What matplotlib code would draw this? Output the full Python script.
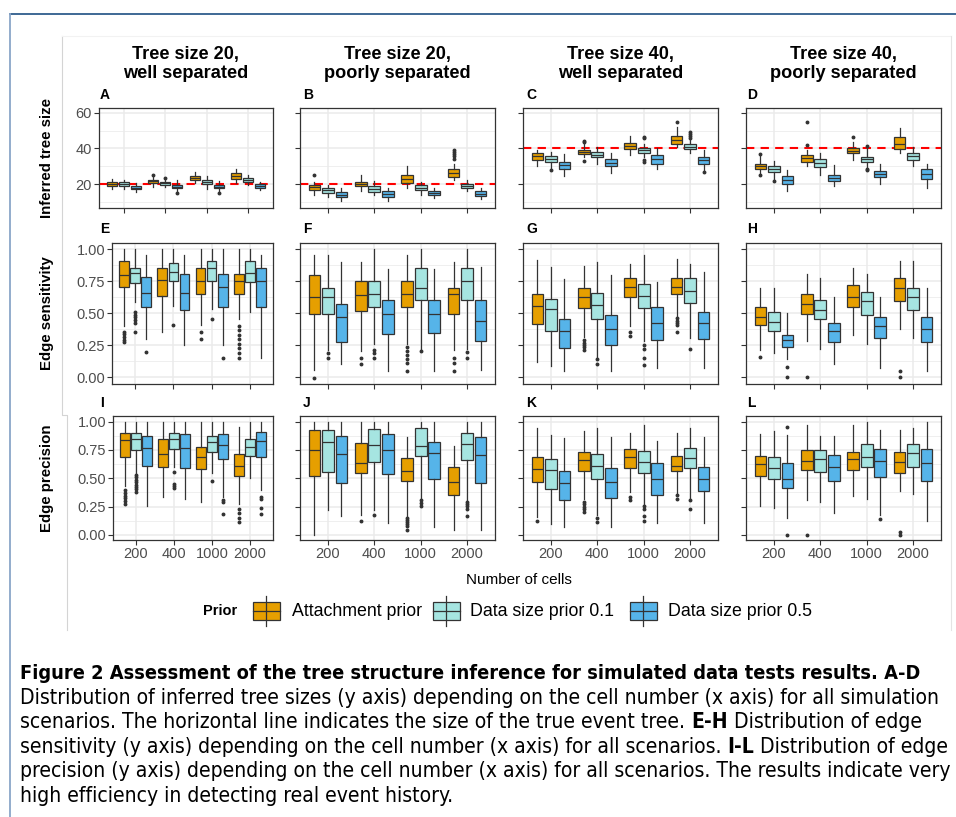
import matplotlib
matplotlib.use("Agg")
import matplotlib.pyplot as plt
from matplotlib.patches import Rectangle

# ===============================
# DATA
# box = (whisker low, q1, median, q3, whisker high)
# order: 200, 400, 1000, 2000 cells; each with attachment, size 0.1, size 0.5
# ===============================
cells = ["200", "400", "1000", "2000"]
priors = ["Attachment prior", "Data size prior 0.1", "Data size prior 0.5"]
col_titles = ["Tree size 20,\nwell separated", "Tree size 20,\npoorly separated",
              "Tree size 40,\nwell separated", "Tree size 40,\npoorly separated"]
row_labels = ["Inferred tree size", "Edge sensitivity", "Edge precision"]
letters = ["A", "B", "C", "D", "E", "F", "G", "H", "I", "J", "K", "L"]
true_size = [20, 20, 40, 40]

size_A = [(17.4, 19, 20, 21, 22.6), (17.2, 19, 20, 21, 22), (15.5, 17, 18, 19, 20.8),
          (18.3, 20.5, 21.5, 22, 24.5), (18.5, 19.6, 20.5, 21, 23), (15.5, 17.7, 18.5, 19.6, 22),
          (20.5, 22, 23.5, 24.5, 27), (17.4, 20.2, 21, 22, 24.3), (15.5, 17.7, 18.5, 19.4, 21.5),
          (20.5, 23, 24.5, 26.2, 28.7), (19.2, 21.1, 22, 23.4, 25), (16.4, 17.9, 19, 19.8, 21)]
out_A = [[], [], [], [25], [23.5], [15], [], [], [15], [], [], []]

size_B = [(14, 16.8, 18.3, 19.2, 21), (12.6, 15, 16.5, 18, 19.5), (10.2, 12.8, 14, 15.5, 17.7),
          (15.8, 18.7, 20, 21.1, 25.3), (13.6, 15.5, 17, 19, 21.5), (10.2, 12.6, 14.3, 15.8, 17.7),
          (18, 20.6, 23, 25, 30), (14, 16.8, 18, 19.4, 21), (12, 13.6, 15, 16, 17.7),
          (22, 24, 26.2, 28.3, 31), (16, 17.7, 19, 19.8, 22), (11.5, 13, 14.5, 16, 17.7)]
out_B = [[25.3], [], [], [], [], [], [], [], [], [34.3, 35.5, 36.7, 38, 39.4], [], []]

size_C = [(30.2, 33.8, 35.5, 37.2, 39), (28.5, 32.5, 34.2, 36, 38), (24.3, 28.7, 30.8, 32.6, 36.8),
          (35, 37, 38, 39.2, 42.8), (31.5, 35, 36.5, 38, 41), (26.2, 30, 32, 34, 37.7),
          (36.2, 39.6, 41.5, 43.2, 47), (35, 37.7, 39, 40.4, 42.8), (28.3, 31.5, 34, 36.2, 40),
          (41, 42.8, 45, 47.2, 52.3), (37.5, 39.8, 41, 42.3, 44.7), (27.4, 31.5, 33.5, 35.3, 39)]
out_C = [[], [27.7], [], [43.5, 44.3, 32.8], [], [], [], [45.7, 46.6, 33.8, 32.5], [],
         [55], [46, 47, 48.2, 49.4], [26.8]]

size_D = [(25.8, 28.5, 30, 31.3, 35.5), (23, 26.6, 28.5, 30, 33), (16, 19.8, 22, 24.3, 28),
          (30.2, 32.6, 34.5, 36.2, 39), (25, 29.6, 32, 34, 37.5), (19, 21.5, 23.3, 25, 30.6),
          (33.4, 37.2, 38.7, 40.2, 43.8), (29.6, 32.5, 34, 35.3, 40.5), (19.8, 23.8, 25.5, 27.2, 31),
          (37.2, 39.6, 42.5, 46.6, 51.3), (30, 33.6, 35.5, 37.2, 41), (18, 22.6, 25.5, 28.5, 31)]
out_D = [[36.8, 25], [21.6], [], [55, 41.9], [], [], [46.6], [41.5, 28.7, 27.8], [], [], [], []]

sens_E = [(0.40, 0.702, 0.795, 0.903, 1.0), (0.59, 0.732, 0.81, 0.856, 1.0), (0.30, 0.551, 0.654, 0.782, 0.955),
          (0.357, 0.633, 0.756, 0.85, 1.0), (0.554, 0.75, 0.824, 0.895, 1.0), (0.252, 0.527, 0.654, 0.808, 0.955),
          (0.404, 0.651, 0.75, 0.85, 1.0), (0.535, 0.75, 0.85, 0.903, 1.0), (0.252, 0.551, 0.703, 0.808, 1.0),
          (0.457, 0.651, 0.75, 0.808, 1.0), (0.509, 0.743, 0.81, 0.903, 1.0), (0.152, 0.551, 0.75, 0.85, 0.955)]
out_E = [[0.357, 0.336, 0.315, 0.294, 0.273], [0.509, 0.488, 0.467, 0.446, 0.425, 0.352], [0.20],
         [], [0.404], [],
         [0.357, 0.30], [0.454], [0.152],
         [0.40, 0.367, 0.331, 0.299, 0.262, 0.226, 0.189, 0.152], [], []]

sens_F = [(0.06, 0.49, 0.63, 0.80, 0.95), (0.21, 0.496, 0.63, 0.70, 0.95), (0.104, 0.275, 0.47, 0.575, 0.898),
          (0.206, 0.517, 0.641, 0.75, 0.90), (0.262, 0.547, 0.651, 0.75, 1.0), (0.05, 0.336, 0.496, 0.60, 0.847),
          (0.262, 0.547, 0.651, 0.75, 0.95), (0.224, 0.60, 0.70, 0.852, 1.0), (0.05, 0.346, 0.496, 0.60, 0.847),
          (0.21, 0.496, 0.651, 0.70, 0.90), (0.224, 0.60, 0.75, 0.852, 1.0), (0.06, 0.28, 0.44, 0.60, 0.86)]
out_F = [[-0.005], [0.186, 0.148], [],
         [0.153, 0.104], [0.216, 0.186, 0.148], [],
         [0.237, 0.204, 0.173, 0.142, 0.109, 0.046], [0.206], [],
         [0.148, 0.109, 0.046], [0.20, 0.153], []]

sens_G = [(0.118, 0.416, 0.558, 0.65, 0.916), (0.087, 0.36, 0.532, 0.61, 0.86), (0.053, 0.232, 0.36, 0.453, 0.768),
          (0.316, 0.54, 0.624, 0.697, 0.868), (0.158, 0.453, 0.566, 0.658, 0.90), (0.053, 0.255, 0.376, 0.487, 0.797),
          (0.403, 0.624, 0.705, 0.776, 0.882), (0.282, 0.54, 0.632, 0.729, 0.955), (0.074, 0.289, 0.426, 0.55, 0.745),
          (0.474, 0.65, 0.703, 0.776, 0.926), (0.303, 0.576, 0.676, 0.771, 0.882), (0.074, 0.297, 0.426, 0.513, 0.824)]
out_G = [[], [], [],
         [0.289, 0.271, 0.253, 0.234, 0.21], [0.139, 0.105], [],
         [0.355, 0.324], [0.25, 0.224, 0.15, 0.097], [],
         [0.46, 0.442, 0.424, 0.405, 0.35], [0.224], []]

sens_H = [(0.21, 0.408, 0.474, 0.545, 0.697), (0.19, 0.36, 0.434, 0.513, 0.697), (0.145, 0.234, 0.289, 0.329, 0.50),
          (0.284, 0.497, 0.574, 0.653, 0.808), (0.224, 0.453, 0.526, 0.605, 0.771), (0.105, 0.276, 0.36, 0.421, 0.624),
          (0.329, 0.55, 0.629, 0.718, 0.85), (0.258, 0.482, 0.592, 0.666, 0.808), (0.074, 0.303, 0.40, 0.474, 0.624),
          (0.376, 0.597, 0.697, 0.771, 0.903), (0.308, 0.526, 0.624, 0.697, 0.903), (0.053, 0.276, 0.376, 0.474, 0.697)]
out_H = [[0.158], [], [0.079, 0.0],
         [0.0], [], [],
         [], [], [],
         [0.047, 0.0], [], []]

prec_I = [(0.43, 0.691, 0.834, 0.899, 1.0), (0.549, 0.751, 0.846, 0.899, 1.0), (0.252, 0.608, 0.766, 0.875, 1.0),
          (0.335, 0.602, 0.715, 0.846, 1.0), (0.602, 0.757, 0.849, 0.899, 1.0), (0.315, 0.588, 0.766, 0.893, 1.0),
          (0.29, 0.579, 0.685, 0.78, 1.0), (0.543, 0.73, 0.816, 0.869, 1.0), (0.335, 0.668, 0.795, 0.893, 1.0),
          (0.27, 0.519, 0.608, 0.712, 0.953), (0.5, 0.697, 0.774, 0.846, 1.0), (0.395, 0.685, 0.825, 0.908, 1.0)]
out_I = [[0.395, 0.371, 0.347, 0.323, 0.30, 0.276], [0.528, 0.507, 0.487, 0.466, 0.445, 0.424, 0.403, 0.38], [],
         [], [0.558, 0.448, 0.43, 0.41], [],
         [], [0.478], [0.31, 0.29, 0.187],
         [0.231, 0.193, 0.151, 0.113], [], [0.335, 0.315, 0.237, 0.181]]

prec_J = [(0.0, 0.519, 0.751, 0.923, 1.0), (0.217, 0.558, 0.816, 0.923, 1.0), (0.166, 0.46, 0.715, 0.875, 1.0),
          (0.172, 0.543, 0.638, 0.81, 1.0), (0.217, 0.647, 0.795, 0.935, 1.0), (0.104, 0.537, 0.751, 0.89, 1.0),
          (0.163, 0.475, 0.567, 0.682, 0.863), (0.32, 0.697, 0.789, 0.944, 1.0), (0.074, 0.498, 0.727, 0.819, 1.0),
          (0.04, 0.356, 0.463, 0.602, 0.786), (0.31, 0.662, 0.804, 0.899, 1.0), (0.04, 0.46, 0.71, 0.867, 1.0)]
out_J = [[], [], [],
         [0.122], [0.172], [],
         [0.151, 0.134, 0.116, 0.098, 0.08, 0.04], [0.306, 0.282, 0.258], [],
         [], [0.29, 0.27, 0.252, 0.23, 0.163], []]

prec_K = [(0.157, 0.469, 0.579, 0.691, 0.94), (0.098, 0.404, 0.573, 0.674, 0.884), (0.068, 0.312, 0.46, 0.567, 0.855),
          (0.32, 0.564, 0.662, 0.73, 0.914), (0.172, 0.496, 0.608, 0.712, 0.94), (0.074, 0.329, 0.469, 0.593, 0.863),
          (0.38, 0.588, 0.685, 0.76, 0.9), (0.27, 0.549, 0.647, 0.745, 0.973), (0.104, 0.353, 0.498, 0.632, 0.825),
          (0.365, 0.564, 0.611, 0.70, 0.9), (0.326, 0.588, 0.677, 0.766, 0.944), (0.104, 0.386, 0.498, 0.602, 0.863)]
out_K = [[0.122], [], [],
         [0.29, 0.27, 0.25, 0.23, 0.205], [0.151, 0.116], [],
         [0.335, 0.306], [0.252, 0.231, 0.163, 0.122], [],
         [0.35, 0.32], [0.306, 0.226], []]

prec_L = [(0.252, 0.519, 0.623, 0.70, 0.89), (0.24, 0.498, 0.588, 0.685, 0.914), (0.148, 0.418, 0.498, 0.632, 0.884),
          (0.306, 0.573, 0.656, 0.751, 0.973), (0.29, 0.552, 0.668, 0.751, 0.875), (0.193, 0.475, 0.602, 0.706, 0.875),
          (0.344, 0.573, 0.668, 0.736, 0.973), (0.315, 0.602, 0.691, 0.804, 0.997), (0.172, 0.513, 0.656, 0.76, 0.923),
          (0.389, 0.549, 0.641, 0.736, 0.923), (0.365, 0.602, 0.721, 0.801, 0.944), (0.122, 0.475, 0.632, 0.757, 0.997)]
out_L = [[], [], [0.953, 0.0],
         [0.0], [], [],
         [], [], [0.142],
         [0.024, 0.0], [], []]

boxes = [[size_A, size_B, size_C, size_D], [sens_E, sens_F, sens_G, sens_H], [prec_I, prec_J, prec_K, prec_L]]
outliers = [[out_A, out_B, out_C, out_D], [out_E, out_F, out_G, out_H], [out_I, out_J, out_K, out_L]]

caption = [
    [("Figure 2 Assessment of the tree structure inference for simulated data tests results. A-D", True)],
    [("Distribution of inferred tree sizes (y axis) depending on the cell number (x axis) for all simulation", False)],
    [("scenarios. The horizontal line indicates the size of the true event tree.", False), ("E-H", True),
     ("Distribution of edge", False)],
    [("sensitivity (y axis) depending on the cell number (x axis) for all scenarios.", False), ("I-L", True),
     ("Distribution of edge", False)],
    [("precision (y axis) depending on the cell number (x axis) for all scenarios. The results indicate very", False)],
    [("high efficiency in detecting real event history.", False)],
]

# ===============================
# STYLE
# ===============================
colors = ["#E69F00", "#A6E5E1", "#56B4E9"]
edge = "#333333"
grid_c = "#EBEBEB"
W, H = 956, 817
FONT = ["Liberation Sans", "DejaVu Sans"]
CAP_FONT = ["DejaVu Sans"]
plt.rcParams["font.family"] = FONT

# panel boxes in pixels: (left, top, right, bottom)
col_left = [[99, 300, 523, 746], [112, 300, 523, 746], [113, 300, 523, 746]]
col_right = [273, 495, 718, 941]
row_top = [108, 243, 416]
row_bot = [208, 384, 540]
ylims = [(6.5, 62.8), (-0.052, 1.047), (-0.045, 1.05)]
yticks = [[20, 40, 60], [0, 0.25, 0.5, 0.75, 1.0], [0, 0.25, 0.5, 0.75, 1.0]]
yminor = [[10, 30, 50], [0.125, 0.375, 0.625, 0.875], [0.125, 0.375, 0.625, 0.875]]
ytick_labels = [["20", "40", "60"], ["0.00", "0.25", "0.50", "0.75", "1.00"],
                ["0.00", "0.25", "0.50", "0.75", "1.00"]]
offsets = [-0.29, 0.0, 0.29]
bw = 0.25

fig = plt.figure(figsize=(W / 100, H / 100), dpi=100)

# overlay in pixel coordinates for frame, labels, legend, caption
ov = fig.add_axes([0, 0, 1, 1])
ov.set_xlim(0, W)
ov.set_ylim(H, 0)
ov.axis("off")

# page frame and faint figure border
ov.plot([10, W], [14, 14], color="#2f5d8c", lw=1.3)
ov.plot([10, 10], [14, H], color="#8aa6c8", lw=1.3)
ov.plot([62, 62, 67, 67], [36, 415, 415, 630], color="#d4d4d4", lw=0.8)
ov.plot([62, 951], [36, 36], color="#f2f2f2", lw=0.8)
ov.plot([951, 951], [36, 630], color="#e4e4e4", lw=0.8)

for r in range(3):
    for c in range(4):
        l, t, rr, b = col_left[r][c], row_top[r], col_right[c], row_bot[r]
        ax = fig.add_axes([l / W, 1 - b / H, (rr - l) / W, (b - t) / H])
        ax.set_xlim(0.4, 4.6)
        ax.set_ylim(*ylims[r])
        ax.set_yticks(yticks[r])
        ax.set_yticks(yminor[r], minor=True)
        ax.set_xticks([1, 2, 3, 4])
        ax.grid(True, which="major", color=grid_c, lw=1.1, zorder=0)
        ax.grid(True, which="minor", axis="y", color=grid_c, lw=0.55, zorder=0)
        ax.set_axisbelow(True)
        ax.tick_params(which="minor", length=0)
        ax.tick_params(which="major", length=3.5, width=0.8, color=edge,
                       labelsize=10.5, labelcolor="#4D4D4D", pad=1.5)
        for sp in ax.spines.values():
            sp.set_color(edge)
            sp.set_linewidth(0.9)
        if c == 0:
            ax.set_yticklabels(ytick_labels[r])
        else:
            ax.set_yticklabels([])
        if r == 2:
            ax.set_xticklabels(cells)
        else:
            ax.set_xticklabels([])

        if r == 0:
            ax.axhline(true_size[c], color="#FF0000", lw=1.5, ls=(0, (4, 3)), zorder=1)

        data = boxes[r][c]
        outs = outliers[r][c]
        for k in range(3):
            stats = []
            pos = []
            for g in range(4):
                lo, q1, med, q3, hi = data[g * 3 + k]
                stats.append(dict(whislo=lo, q1=q1, med=med, q3=q3, whishi=hi,
                                  fliers=outs[g * 3 + k]))
                pos.append(g + 1 + offsets[k])
            ax.bxp(stats, positions=pos, widths=bw, patch_artist=True, showcaps=False,
                   boxprops=dict(facecolor=colors[k], edgecolor=edge, lw=0.9),
                   whiskerprops=dict(color=edge, lw=0.9),
                   medianprops=dict(color=edge, lw=0.9),
                   flierprops=dict(marker="o", markersize=1.8, markerfacecolor=edge,
                                   markeredgecolor=edge, linestyle="none"),
                   manage_ticks=False, zorder=2)

        ov.text([100, 303, 526, 747][c], [95, 229, 403][r], letters[r * 4 + c],
                fontsize=10, fontweight="bold", ha="left", va="center")

# column titles
for c in range(4):
    cx = ((col_left[0][c] + col_right[c]) / 2)
    ov.text(cx, 64, col_titles[c], fontsize=13.1, fontweight="bold", ha="center", va="center",
            linespacing=1.08)

# row labels
for r in range(3):
    ov.text(47, (row_top[r] + row_bot[r]) / 2, row_labels[r], rotation=90, fontsize=10.8,
            fontweight="bold", ha="center", va="center")

ov.text(519, 580, "Number of cells", fontsize=11, ha="center", va="center")

# legend
ov.text(203, 611, "Prior", fontsize=10.5, fontweight="bold", ha="left", va="center")
key_x = [253, 433, 630]
text_x = [292, 470, 668]
for k in range(3):
    kx = key_x[k]
    ov.plot([kx + 13.5, kx + 13.5], [596, 626], color=edge, lw=0.9)
    ov.add_patch(Rectangle((kx, 602), 27, 17.5, facecolor=colors[k], edgecolor=edge, lw=0.9))
    ov.plot([kx, kx + 27], [610.75, 610.75], color=edge, lw=0.9)
    ov.text(text_x[k], 611, priors[k], fontsize=12.8, ha="left", va="center")

# caption, fitted to the page width
renderer = fig.canvas.get_renderer()


def cap_text(x, y, s, size, bold):
    return ov.text(x, y, s, fontsize=size, fontweight="bold" if bold else "normal",
                   family=CAP_FONT, fontstretch="condensed", ha="left", va="baseline", color="black")


def text_width(s, size, bold):
    t = cap_text(0, 0, s, size, bold)
    w = t.get_window_extent(renderer).width
    t.remove()
    return w


reg_size = 14 * 925 / text_width(caption[1][0][0], 14, False)
bold_size = 14 * 902 / text_width(caption[0][0][0], 14, True)
space_w = text_width("a a", reg_size, False) - text_width("aa", reg_size, False)

for i, line in enumerate(caption):
    x = 20
    y = 679 + i * 24.6
    for j, (s, bold) in enumerate(line):
        if j > 0:
            x += space_w
        size = bold_size if (bold and i == 0) else reg_size
        cap_text(x, y, s, size, bold)
        x += text_width(s, size, bold)

fig.savefig("out.png", dpi=100)
